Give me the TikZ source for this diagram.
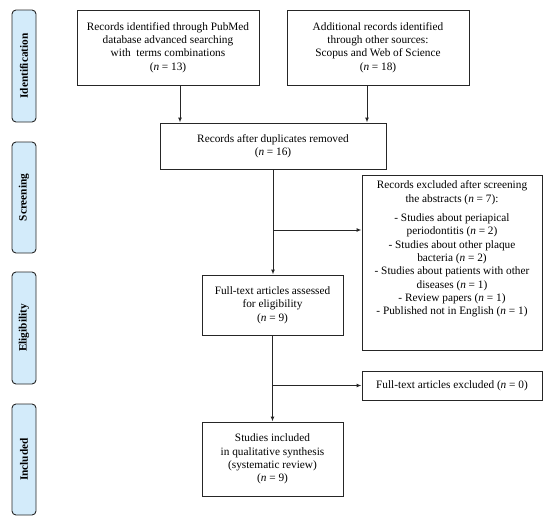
\documentclass[tikz,border=0pt]{standalone}
\usepackage{fontspec}
\setmainfont{Liberation Serif}
\usetikzlibrary{arrows.meta}
\definecolor{sidefill}{HTML}{D3EBFA}
\definecolor{edge}{HTML}{262626}
\tikzset{
  box/.style={draw=edge, line width=1pt, align=center, font=\fontsize{11.3}{13.3}\selectfont, inner sep=2pt},
  side/.style={draw=edge, line width=0.9pt, fill=sidefill, rounded corners=4pt, rotate=90, font=\fontsize{11.3}{12}\selectfont\bfseries, inner sep=0pt},
  arr/.style={draw=edge, line width=1pt, -{Latex[length=5pt,width=4pt]}}
}
\begin{document}
\begin{tikzpicture}[x=1pt,y=1pt]
\useasboundingbox (0,0) rectangle (550,-520);
% side labels
\node[side, minimum width=112pt, minimum height=24pt] (s1) at (24,-66) {Identification};
\node[side, minimum width=111pt, minimum height=24pt] (s2) at (24,-197.5) {Screening};
\node[side, minimum width=112pt, minimum height=24pt] (s3) at (24,-328) {Eligibility};
\node[side, minimum width=111pt, minimum height=24pt] (s4) at (24,-459.5) {Included};
% boxes
\node[box, minimum width=182pt, minimum height=75pt] (b1) at (168,-47.5)
  {Records identified through PubMed\\database advanced searching\\with\ \ terms combinations\\(\textit{n} = 13)};
\node[box, minimum width=182pt, minimum height=75pt] (b2) at (378,-47.5)
  {Additional records identified\\through other sources:\\Scopus and Web of Science\\(\textit{n} = 18)};
\node[box, minimum width=226pt, minimum height=46pt] (b3) at (273,-146)
  {Records after duplicates removed\\(\textit{n} = 16)};
\node[box, minimum width=180pt, minimum height=175pt, anchor=north, inner sep=0pt] (e1) at (452,-175)
  {\parbox[t][172pt][t]{176pt}{\centering\vspace{4pt}
   Records excluded after screening\\the abstracts (\textit{n} = 7):\par\vspace{6pt}
   - Studies about periapical\\periodontitis (\textit{n} = 2)\\
   - Studies about other plaque\\bacteria (\textit{n} = 2)\\
   - Studies about patients with other\\diseases (\textit{n} = 1)\\
   - Review papers (\textit{n} = 1)\\
   - Published not in English (\textit{n} = 1)}};
\node[box, minimum width=141pt, minimum height=60pt] (b4) at (272.5,-305)
  {Full-text articles assessed\\for eligibility\\(\textit{n} = 9)};
\node[box, minimum width=180pt, minimum height=29pt] (e2) at (452,-385.5)
  {Full-text articles excluded (\textit{n} = 0)};
\node[box, minimum width=141pt, minimum height=74pt] (b5) at (272.5,-459)
  {Studies included\\in qualitative synthesis\\(systematic review)\\(\textit{n} = 9)};
% connectors
\draw[arr] ([xshift=12pt]b1.south) -- ([xshift=12pt]b1.south |- b3.north);
\draw[arr] ([xshift=-11pt]b2.south) -- ([xshift=-11pt]b2.south |- b3.north);
\draw[arr] (b3.south) -- (b3.south |- b4.north);
\coordinate (j1) at (b3.south |- 0,-230);
\draw[arr] (j1) -- (j1 -| e1.west);
\draw[arr] (b4.south) -- (b5.north);
\coordinate (j2) at (b4.south |- e2.west);
\draw[arr] (j2) -- (e2.west);
\end{tikzpicture}
\end{document}
